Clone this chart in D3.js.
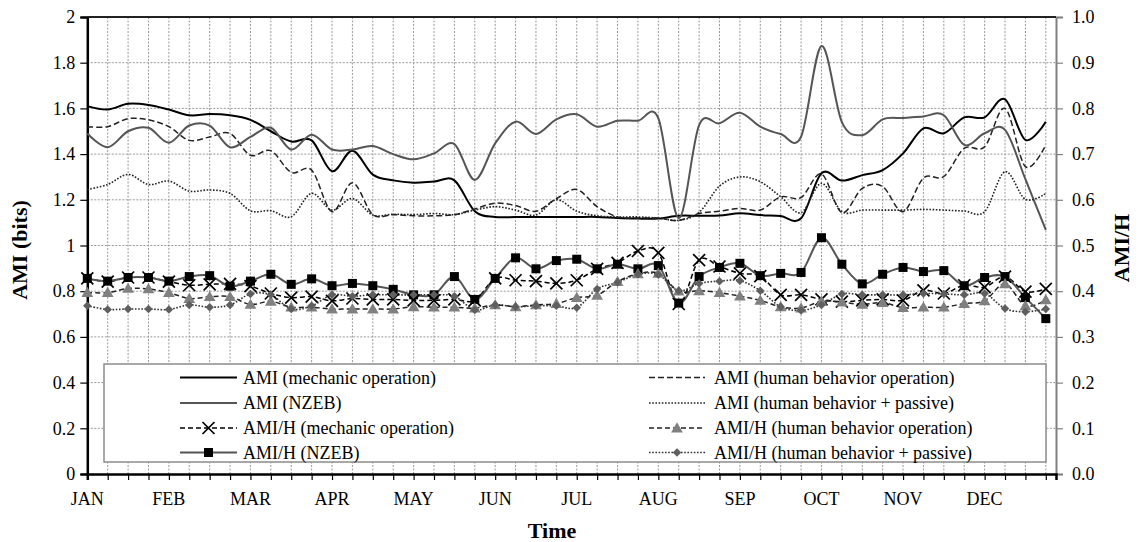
<!DOCTYPE html>
<html><head><meta charset="utf-8">
<script src="https://cdn.jsdelivr.net/npm/d3@7"></script>
<style>
body{margin:0;background:#fff;}
svg{display:block;}
svg text{font-family:"Liberation Serif","Times New Roman",Times,"DejaVu Serif",serif !important;}
</style></head><body>
<svg id="c" width="1140" height="542"></svg>
<script>
const months = ["JAN","FEB","MAR","APR","MAY","JUN","JUL","AUG","SEP","OCT","NOV","DEC"];
const leftTicks = [0,0.2,0.4,0.6,0.8,1,1.2,1.4,1.6,1.8,2];
const rightTicks = [0,0.1,0.2,0.3,0.4,0.5,0.6,0.7,0.8,0.9,1.0];

const amiMech = [1.61,1.595,1.62,1.615,1.595,1.57,1.575,1.57,1.55,1.50,1.455,1.46,1.325,1.415,1.31,1.285,1.275,1.28,1.285,1.15,1.125,1.125,1.125,1.125,1.125,1.125,1.12,1.118,1.118,1.13,1.13,1.131,1.141,1.133,1.129,1.119,1.316,1.284,1.308,1.33,1.403,1.513,1.491,1.561,1.561,1.64,1.462,1.542];
const amiHBop = [1.52,1.52,1.555,1.55,1.52,1.46,1.475,1.49,1.395,1.415,1.32,1.33,1.148,1.275,1.135,1.135,1.13,1.13,1.135,1.16,1.185,1.175,1.15,1.205,1.245,1.17,1.125,1.12,1.12,1.11,1.14,1.15,1.162,1.155,1.213,1.21,1.313,1.144,1.25,1.258,1.148,1.295,1.302,1.425,1.432,1.60,1.345,1.44];
const amiNZEB = [1.49,1.43,1.50,1.515,1.45,1.525,1.525,1.43,1.475,1.515,1.42,1.485,1.42,1.42,1.435,1.40,1.377,1.403,1.444,1.287,1.447,1.542,1.488,1.552,1.574,1.52,1.546,1.546,1.557,1.119,1.527,1.535,1.581,1.52,1.488,1.476,1.873,1.54,1.483,1.552,1.558,1.565,1.57,1.44,1.491,1.506,1.29,1.068];
const amiPassive = [1.245,1.267,1.311,1.267,1.282,1.238,1.243,1.228,1.152,1.152,1.126,1.228,1.155,1.206,1.133,1.137,1.135,1.14,1.135,1.155,1.17,1.155,1.133,1.20,1.15,1.13,1.125,1.125,1.12,1.11,1.145,1.26,1.30,1.279,1.213,1.144,1.272,1.148,1.155,1.155,1.155,1.158,1.155,1.151,1.148,1.323,1.202,1.228];

const amihMech = [0.428,0.421,0.430,0.430,0.421,0.413,0.415,0.416,0.411,0.395,0.386,0.388,0.379,0.384,0.382,0.382,0.380,0.380,0.382,0.380,0.428,0.424,0.422,0.417,0.424,0.449,0.462,0.488,0.484,0.372,0.468,0.454,0.439,0.433,0.392,0.392,0.382,0.377,0.380,0.382,0.380,0.402,0.395,0.413,0.409,0.432,0.399,0.405];
const amihHBop = [0.397,0.397,0.406,0.405,0.397,0.384,0.388,0.388,0.371,0.378,0.365,0.365,0.361,0.361,0.361,0.361,0.366,0.365,0.365,0.363,0.370,0.366,0.370,0.373,0.386,0.391,0.421,0.438,0.439,0.400,0.401,0.397,0.389,0.380,0.366,0.363,0.378,0.376,0.371,0.375,0.364,0.365,0.365,0.373,0.379,0.416,0.368,0.381];
const amihNZEB = [0.428,0.422,0.430,0.430,0.422,0.432,0.434,0.411,0.422,0.437,0.415,0.427,0.412,0.417,0.412,0.404,0.392,0.392,0.432,0.382,0.428,0.473,0.449,0.467,0.470,0.449,0.459,0.449,0.456,0.374,0.432,0.452,0.461,0.434,0.439,0.441,0.517,0.459,0.416,0.437,0.452,0.443,0.445,0.412,0.430,0.432,0.386,0.340];
const amihPassive = [0.368,0.360,0.361,0.361,0.360,0.370,0.365,0.370,0.394,0.392,0.361,0.368,0.392,0.389,0.392,0.392,0.392,0.392,0.389,0.359,0.370,0.366,0.368,0.368,0.364,0.405,0.419,0.437,0.436,0.401,0.417,0.422,0.423,0.401,0.366,0.358,0.370,0.394,0.392,0.392,0.392,0.395,0.394,0.392,0.395,0.362,0.355,0.361];

const legendLabels = ["AMI (mechanic operation)","AMI (human behavior operation)","AMI (NZEB)","AMI (human behavior + passive)",
  "AMI/H (mechanic operation)","AMI/H (human behavior operation)","AMI/H (NZEB)","AMI/H (human behavior + passive)"];

const FONT = '"Liberation Serif", "Times New Roman", Times, "DejaVu Serif", serif';
const svg = d3.select("#c").attr("font-family", FONT);
const L = 87.3, R = 1056, T = 17, B = 474;
const nPts = amiMech.length;
const x = d3.scaleLinear().domain([0, nPts - 0.5]).range([L, R]);
const yL = d3.scaleLinear().domain([0, 2]).range([B, T]);
const yR = d3.scaleLinear().domain([0, 1]).range([B, T]);
const idx = d3.range(nPts);

// gridlines
const grid = svg.append("g");
grid.selectAll("line.h").data(leftTicks.filter(d => d > 0 && d < 2)).join("line")
  .attr("x1", L).attr("x2", R).attr("y1", d => yL(d)).attr("y2", d => yL(d))
  .attr("stroke", "#999").attr("stroke-width", 1).attr("stroke-dasharray", "2,1.5");
grid.selectAll("line.v").data(idx.filter(i => i > 0)).join("line")
  .attr("x1", d => x(d)).attr("x2", d => x(d)).attr("y1", T).attr("y2", B)
  .attr("stroke", "#999").attr("stroke-width", 1).attr("stroke-dasharray", "2,1.5");

// axes
const axL = d3.axisLeft(yL).tickValues(leftTicks).tickSize(7).tickPadding(5).tickFormat(d3.format("~g"));
const gL = svg.append("g").attr("transform", `translate(${L},0)`).call(axL);
gL.attr("font-family", FONT);
gL.select(".domain").attr("stroke", "#000").attr("stroke-width", 2.5);
gL.selectAll(".tick line").attr("stroke", "#000").attr("stroke-width", 1.2);
gL.selectAll("text").attr("font-size", 18).attr("fill", "#000");

const axR = d3.axisRight(yR).tickValues(rightTicks).tickSize(7).tickPadding(9).tickFormat(d3.format(".1f"));
const gR = svg.append("g").attr("transform", `translate(${R},0)`).call(axR);
gR.attr("font-family", FONT);
gR.select(".domain").attr("stroke", "#808080").attr("stroke-width", 2);
gR.selectAll(".tick line").attr("stroke", "#808080").attr("stroke-width", 1.2);
gR.selectAll("text").attr("font-size", 18).attr("fill", "#000");

// top border
svg.append("line").attr("x1", L).attr("x2", R).attr("y1", T).attr("y2", T).attr("stroke", "#222").attr("stroke-width", 2);

const axB = d3.axisBottom(x).tickValues(idx).tickSize(6).tickFormat(() => "");
const gB = svg.append("g").attr("transform", `translate(0,${B})`).call(axB);
gB.select(".domain").attr("stroke", "#000").attr("stroke-width", 2.5);
gB.selectAll(".tick line").attr("stroke", "#000").attr("stroke-width", 1.2);
svg.append("g").selectAll("text").data(months).join("text")
  .attr("x", (d, i) => x(i * 4)).attr("y", 505).attr("text-anchor", "middle")
  .attr("font-size", 18).text(d => d);

// titles
svg.append("text").attr("transform", "translate(27,250) rotate(-90)").attr("text-anchor", "middle")
  .attr("font-size", 22).attr("font-weight", "bold").text("AMI (bits)");
svg.append("text").attr("transform", "translate(1129,248) rotate(-90)").attr("text-anchor", "middle")
  .attr("font-size", 22).attr("font-weight", "bold").text("AMI/H");
svg.append("text").attr("x", 552).attr("y", 538).attr("text-anchor", "middle")
  .attr("font-size", 22).attr("font-weight", "bold").text("Time");

const curve = d3.curveCardinal.tension(0);
const lineL = d3.line().x((d, i) => x(i)).y(d => yL(d)).curve(curve);
const lineR = d3.line().x((d, i) => x(i)).y(d => yR(d)).curve(curve);

const styles = [
  {data: amiMech, ax: "L", stroke: "#000", w: 2, dash: null},
  {data: amiHBop, ax: "L", stroke: "#222", w: 1.5, dash: "6,3"},
  {data: amiNZEB, ax: "L", stroke: "#555", w: 2, dash: null},
  {data: amiPassive, ax: "L", stroke: "#222", w: 1.6, dash: "1.6,1.6"},
  {data: amihMech, ax: "R", stroke: "#000", w: 1.5, dash: "5,3", marker: "x"},
  {data: amihHBop, ax: "R", stroke: "#222", w: 1.5, dash: "5,3", marker: "tri"},
  {data: amihNZEB, ax: "R", stroke: "#555", w: 2, dash: null, marker: "sq"},
  {data: amihPassive, ax: "R", stroke: "#333", w: 1.6, dash: "1.6,1.6", marker: "dia"}
];

const plot = svg.append("g");
styles.forEach(s => {
  plot.append("path").attr("d", (s.ax === "L" ? lineL : lineR)(s.data))
    .attr("fill", "none").attr("stroke", s.stroke).attr("stroke-width", s.w)
    .attr("stroke-dasharray", s.dash);
});

function drawMarker(g, type, cx, cy) {
  if (type === "x") {
    g.append("path").attr("d", `M${cx-6},${cy-6}L${cx+6},${cy+6}M${cx-6},${cy+6}L${cx+6},${cy-6}`)
      .attr("stroke", "#000").attr("stroke-width", 1.7).attr("fill", "none");
  } else if (type === "sq") {
    g.append("rect").attr("x", cx-4.5).attr("y", cy-4.5).attr("width", 9).attr("height", 9).attr("fill", "#000");
  } else if (type === "tri") {
    g.append("path").attr("d", d3.symbol(d3.symbolTriangle, 60)()).attr("transform", `translate(${cx},${cy+1})`).attr("fill", "#808080");
  } else if (type === "dia") {
    g.append("path").attr("d", d3.symbol(d3.symbolSquare, 36)()).attr("transform", `translate(${cx},${cy}) rotate(45)`).attr("fill", "#5f5f5f");
  }
}
const markerOrder = [6, 4, 5, 7];
markerOrder.forEach(k => {
  const s = styles[k];
  const g = plot.append("g");
  s.data.forEach((v, i) => drawMarker(g, s.marker, x(i), yR(v)));
});

// legend
const lg = svg.append("g");
lg.append("rect").attr("x", 104).attr("y", 364).attr("width", 942).attr("height", 98)
  .attr("fill", "#fff").attr("stroke", "#8c8c8c").attr("stroke-width", 1.5);
const rowsY = [377.5, 403, 428, 452.5];
const cols = [{x1: 180, x2: 237, tx: 243}, {x1: 649, x2: 705, tx: 714}];
styles.forEach((s, k) => {
  const c = cols[k % 2], yy = rowsY[Math.floor(k / 2)];
  lg.append("line").attr("x1", c.x1).attr("x2", c.x2).attr("y1", yy).attr("y2", yy)
    .attr("stroke", s.stroke).attr("stroke-width", s.w).attr("stroke-dasharray", s.dash);
  if (s.marker) drawMarker(lg, s.marker, (c.x1 + c.x2) / 2, yy);
  lg.append("text").attr("x", c.tx).attr("y", yy).attr("dy", "0.35em").attr("font-size", 18).text(legendLabels[k]);
});
</script>
</body></html>
